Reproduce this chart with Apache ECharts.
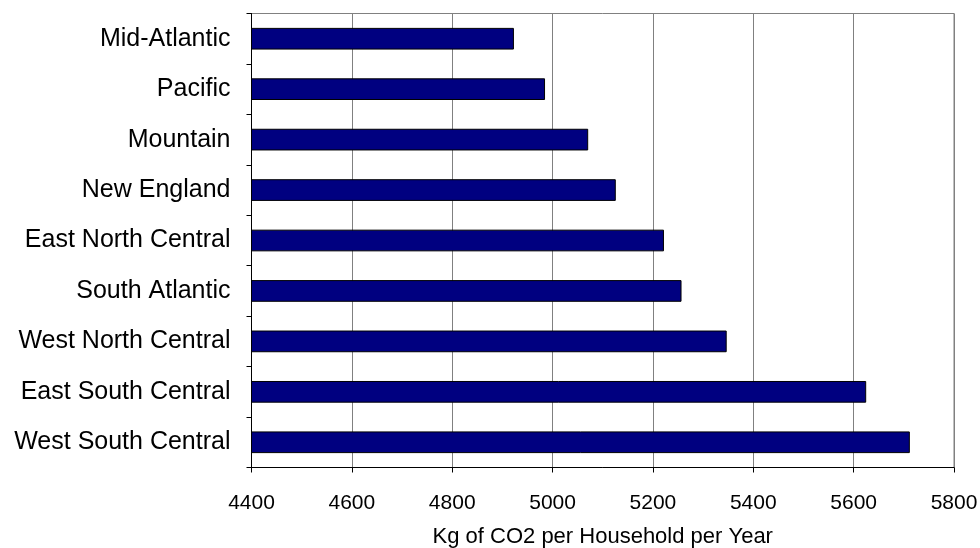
<!DOCTYPE html>
<html>
<head>
<meta charset="utf-8">
<script src="https://cdn.jsdelivr.net/npm/echarts@6/dist/echarts.min.js"></script>
<style>
  html, body { margin: 0; padding: 0; background: #ffffff; }
  #chart { width: 980px; height: 548px; }
</style>
</head>
<body>
<div id="chart"></div>
<script>
// Census divisions, top to bottom
const regions = [
  'Mid-Atlantic',
  'Pacific',
  'Mountain',
  'New England',
  'East North Central',
  'South Atlantic',
  'West North Central',
  'East South Central',
  'West South Central'
];
// Household CO2 emissions, kg per year
const emissions = [4923, 4985, 5071, 5126, 5222, 5257, 5347, 5625, 5712];
// Value-axis range and step
const axisMin = 4400;
const axisMax = 5800;
const axisStep = 200;
const axisTitle = 'Kg of CO2 per Household per Year';

const font = '"Liberation Sans", Arial, sans-serif';
const chart = echarts.init(document.getElementById('chart'), null, { renderer: 'canvas' });

chart.setOption({
  backgroundColor: '#ffffff',
  animation: false,
  grid: {
    left: 251.5,
    right: 26,
    top: 13.5,
    bottom: 80.5,
    outerBoundsMode: 'none',
    containLabel: false,
    show: true,
    borderColor: '#808080',
    borderWidth: 1,
    backgroundColor: 'transparent'
  },
  xAxis: {
    type: 'value',
    min: axisMin,
    max: axisMax,
    interval: axisStep,
    name: axisTitle,
    nameLocation: 'middle',
    nameGap: 58,
    nameTextStyle: { color: '#000', fontSize: 22, fontFamily: font },
    axisLine: { show: true, lineStyle: { color: '#000', width: 1 } },
    axisTick: { show: true, length: 5, lineStyle: { color: '#000' } },
    axisLabel: {
      color: '#000',
      fontSize: 21,
      fontFamily: font,
      margin: 25,
      formatter: (v) => String(v)
    },
    splitLine: { show: true, lineStyle: { color: '#808080', width: 1 } }
  },
  yAxis: {
    type: 'category',
    data: regions,
    inverse: true,
    axisLine: { show: true, lineStyle: { color: '#000', width: 1 } },
    axisTick: { show: true, length: 5, alignWithLabel: false, lineStyle: { color: '#000' } },
    axisLabel: { color: '#000', fontSize: 25, fontFamily: font, margin: 21 },
    splitLine: { show: false }
  },
  series: [{
    type: 'bar',
    data: emissions,
    barWidth: '43%',
    itemStyle: { color: '#000080', borderColor: '#000000', borderWidth: 1 }
  }]
});
</script>
</body>
</html>
